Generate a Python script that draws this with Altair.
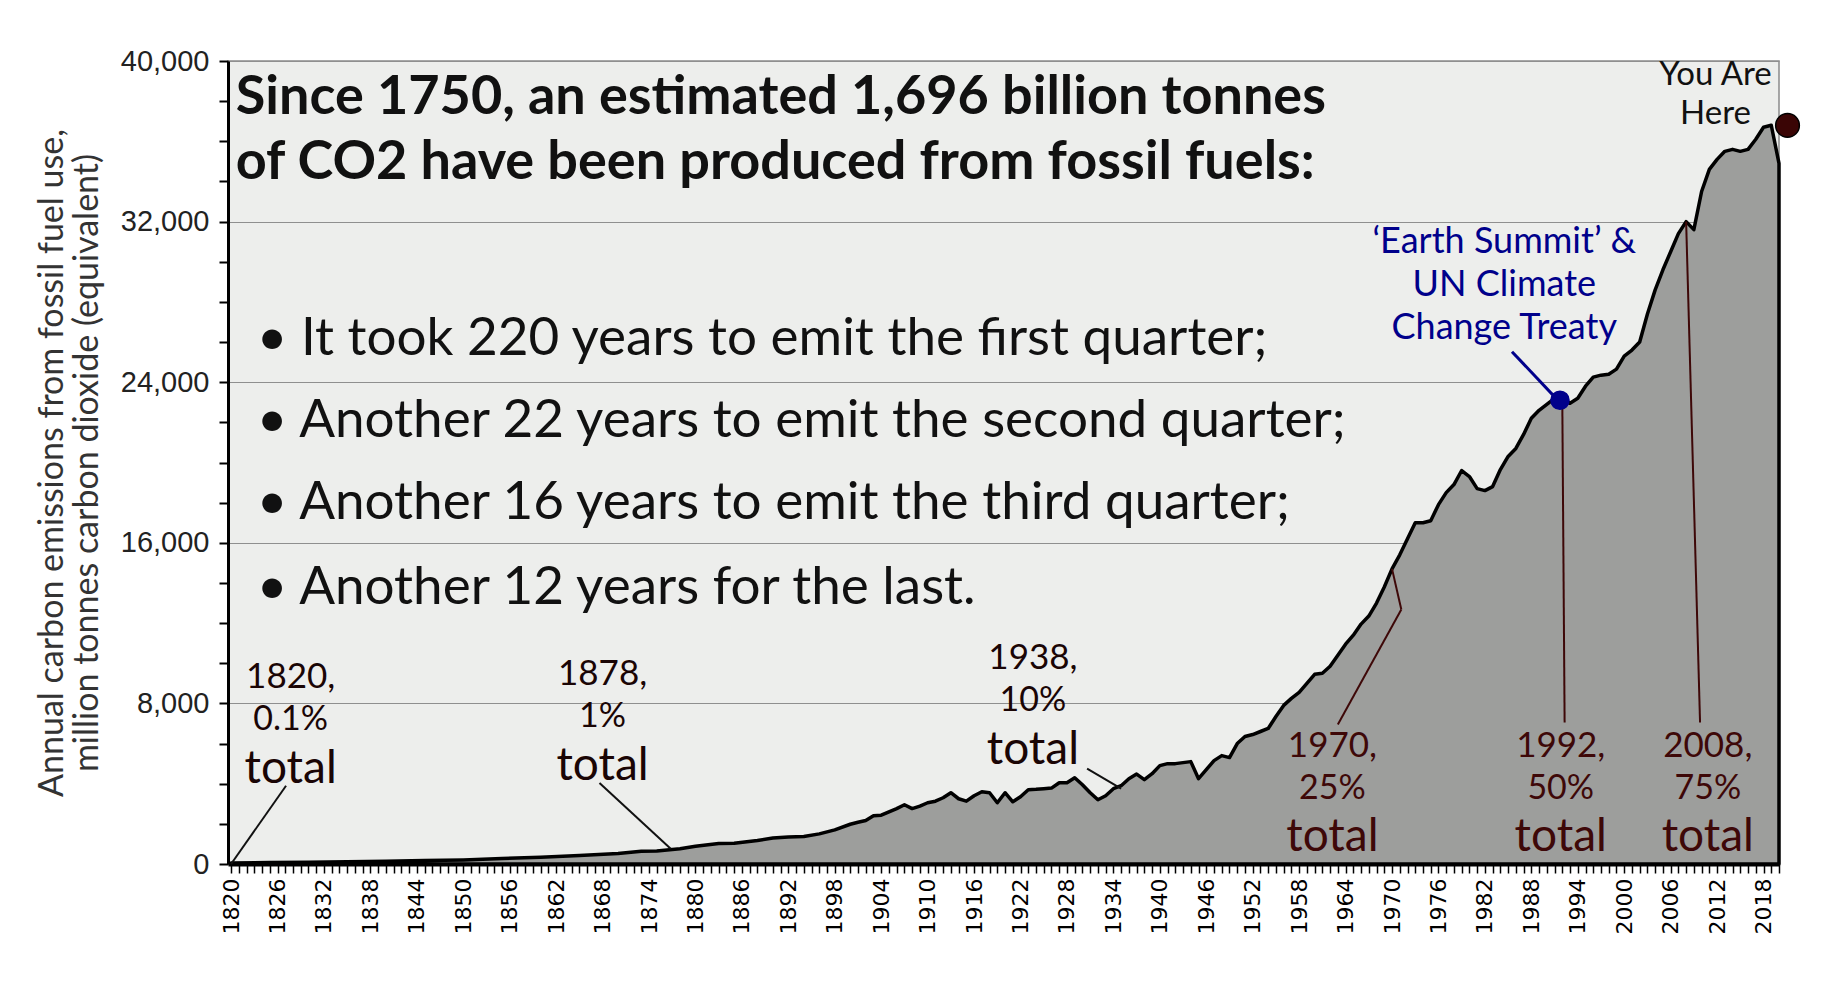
import altair as alt
import pandas as pd

# ---------------- data ----------------
years = [1820, 1825, 1830, 1835, 1840, 1845, 1850, 1855, 1860, 1865, 1870, 1873, 1875,
         1878, 1880, 1883, 1885, 1888, 1890, 1892, 1894, 1896, 1898,
         1900, 1901, 1902, 1903, 1904, 1905, 1906, 1907, 1908, 1909,
         1910, 1911, 1912, 1913, 1914, 1915, 1916, 1917, 1918, 1919,
         1920, 1921, 1922, 1923, 1924, 1925, 1926, 1927, 1928, 1929,
         1930, 1931, 1932, 1933, 1934, 1935, 1936, 1937, 1938, 1939,
         1940, 1941, 1942, 1943, 1944, 1945, 1946, 1947, 1948, 1949,
         1950, 1951, 1952, 1953, 1954, 1955, 1956, 1957, 1958, 1959,
         1960, 1961, 1962, 1963, 1964, 1965, 1966, 1967, 1968, 1969,
         1970, 1971, 1972, 1973, 1974, 1975, 1976, 1977, 1978, 1979,
         1980, 1981, 1982, 1983, 1984, 1985, 1986, 1987, 1988, 1989,
         1990, 1991, 1992, 1993, 1994, 1995, 1996, 1997, 1998, 1999,
         2000, 2001, 2002, 2003, 2004, 2005, 2006, 2007, 2008, 2009,
         2010, 2011, 2012, 2013, 2014, 2015, 2016, 2017, 2018, 2019, 2020]
emissions = [50, 70, 90, 110, 140, 170, 200, 270, 340, 420, 520, 640, 650,
             760, 880, 1020, 1030, 1170, 1290, 1350, 1370, 1500, 1700,
             1980, 2080, 2170, 2400, 2430, 2600, 2760, 2950, 2760, 2880,
             3050, 3130, 3300, 3550, 3250, 3130, 3400, 3600, 3550, 3050,
             3550, 3100, 3350, 3700, 3720, 3750, 3780, 4050, 4050, 4300,
             3950, 3550, 3200, 3400, 3750, 3900, 4250, 4480, 4200, 4500,
             4900, 5000, 5000, 5050, 5100, 4250, 4700, 5150, 5400, 5300,
             6000, 6350, 6450, 6600, 6750, 7350, 7900, 8250, 8550, 9000,
             9450, 9500, 9850, 10400, 10950, 11400, 11950, 12350, 13000, 13800,
             14700, 15400, 16200, 17000, 17000, 17100, 17900, 18500, 18900, 19600,
             19300, 18700, 18600, 18800, 19650, 20300, 20700, 21400, 22200, 22600,
             22900, 23200, 23100, 22950, 23200, 23800, 24250, 24350, 24400, 24650,
             25300, 25600, 26000, 27400, 28600, 29600, 30500, 31400, 32000, 31600,
             33500, 34600, 35100, 35500, 35600, 35500, 35600, 36100, 36700, 36800, 34900]

x_tick_values = list(range(1820, 2021))
y_tick_values = list(range(0, 40001, 2000))

title_text = "Since 1750, an  estimated 1,696 billion tonnes\nof CO2 have been produced from fossil fuels:"
title_x = [1820.6]
title_y = [37350]

bullet_lines = ["\u2022 It took 220 years to emit the first quarter;",
                "\u2022 Another 22 years to emit the second quarter;",
                "\u2022 Another 16 years to emit the third quarter;",
                "\u2022 Another 12 years for the last."]
bullet_x = [1823.3, 1823.3, 1823.3, 1823.3]
bullet_y = [25350, 21260, 17170, 12960]

# milestone labels: text, x(year), y(value), size, colour
ann_text = ["1820,", "0.1%", "total", "1878,", "1%", "total", "1938,", "10%", "total",
            "1970,", "25%", "total", "1992,", "50%", "total", "2008,", "75%", "total"]
ann_x = [1827.7] * 3 + [1868.0] * 3 + [1923.6] * 3 + [1962.3] * 3 + [1991.8] * 3 + [2010.8] * 3
ann_y = [9300, 7150, 4750, 9450, 7300, 4900, 10250, 8100, 5700,
         5900, 3750, 1350, 5900, 3750, 1350, 5900, 3750, 1350]
ann_size = [35, 34, 46] * 6
ann_color = ["#1a0505"] * 9 + ["#3e0808"] * 9

here_text = ["You Are", "Here"]
here_x = [2011.8, 2011.8]
here_y = [39300, 37350]

summit_text = ["\u2018Earth Summit\u2019 &", "UN Climate", "Change Treaty"]
summit_x = [1984.5, 1984.5, 1984.5]
summit_y = [31000, 28850, 26700]

# leader lines (x1, y1, x2, y2, colour)
seg_x1 = [1827.1, 1867.6, 1930.6, 1963.0, 1971.2, 1992.3, 2009.8]
seg_y1 = [3900, 4030, 4750, 6950, 12673, 7050, 7050]
seg_x2 = [1820.0, 1876.8, 1935.0, 1971.2, 1970.0, 1992.0, 2008.0]
seg_y2 = [0, 760, 3750, 12673, 14700, 23100, 32000]
seg_color = ["#111111", "#111111", "#111111", "#3e0808", "#3e0808", "#3e0808", "#3e0808"]

summit_arrow_x = [1985.5, 1991.5]
summit_arrow_y = [25520, 23070]

dot_x = [1991.7, 2021.1]
dot_y = [23100, 36790]
dot_fill = ["#00008b", "#3a0505"]
dot_stroke = ["#00008b", "#000000"]
dot_size = [330, 560]

# ---------------- chart ----------------
df = pd.DataFrame({"year": years, "co2": emissions})
xs = alt.Scale(domain=[1819.6, 2020], nice=False, zero=False)
ys = alt.Scale(domain=[0, 40000], nice=False)

x_axis = alt.Axis(values=x_tick_values, tickCount=400,
                  labelExpr="(datum.value - 1820) % 6 == 0 ? '' + datum.value : ''",
                  labelFontSize={"condition": {"test": "(datum.value - 1820) % 6 !== 0", "value": 0},
                                 "value": 22},
                  labelAngle=270, labelAlign="right", labelBaseline="middle",
                  labelFont="DejaVu Sans", labelColor="#000000",
                  labelOverlap=False, labelPadding=5, labelFlush=False,
                  tickSize=9, tickWidth=1.5, tickColor="black",
                  domainColor="black", domainWidth=4, grid=False, title=None)
y_axis = alt.Axis(values=y_tick_values, tickCount=100,
                  labelExpr="datum.value % 8000 == 0 ? format(datum.value, ',') : ''",
                  labelFont="Liberation Sans", labelFontSize=29, labelColor="#222222",
                  labelPadding=10, labelOverlap=False,
                  tickSize=9, tickWidth=2, tickColor="black",
                  domainColor="black", domainWidth=3,
                  grid=True, gridColor="#8f8f8f", gridWidth=1.2,
                  gridOpacity={"condition": {"test": "datum.value % 8000 === 0", "value": 1}, "value": 0},
                  title=["Annual carbon emissions from fossil fuel use,",
                         "million tonnes carbon dioxide (equivalent)"],
                  titleFont="Lato", titleFontSize=34, titleFontWeight="normal",
                  titleColor="#333333", titleLineHeight=35, titlePadding=16)

area = alt.Chart(df).mark_area(
    color="#9d9e9c", stroke="black", strokeWidth=3.5, strokeJoin="round"
).encode(
    x=alt.X("year:Q", scale=xs, axis=x_axis),
    y=alt.Y("co2:Q", scale=ys, axis=y_axis),
)

def text_layer(xv, yv, tv, size, color, weight="normal", align="left", baseline="alphabetic",
               font="Lato", **kw):
    d = pd.DataFrame({"x": xv, "y": yv, "t": tv})
    return alt.Chart(d).mark_text(
        align=align, baseline=baseline, font=font, fontSize=size,
        fontWeight=weight, color=color, **kw
    ).encode(x=alt.X("x:Q", scale=xs), y=alt.Y("y:Q", scale=ys), text="t:N")

title_layer = text_layer(title_x, title_y, [title_text], 54, "#111111", weight="bold",
                         lineBreak="\n", lineHeight=65)
bullet_layer = text_layer(bullet_x, bullet_y, bullet_lines, 53, "#111111")

ann_df = pd.DataFrame({"x": ann_x, "y": ann_y, "t": ann_text, "s": ann_size, "c": ann_color})
ann_layer = alt.Chart(ann_df).mark_text(
    align="center", baseline="middle", font="Lato"
).encode(
    x=alt.X("x:Q", scale=xs), y=alt.Y("y:Q", scale=ys), text="t:N",
    size=alt.Size("s:Q", scale=None), color=alt.Color("c:N", scale=None),
)

here_layer = text_layer(here_x, here_y, here_text, 33, "#111111",
                        align="center", baseline="middle")
summit_layer = text_layer(summit_x, summit_y, summit_text, 36, "#00008b",
                          align="center", baseline="middle")

seg_df = pd.DataFrame({"x1": seg_x1, "y1": seg_y1, "x2": seg_x2, "y2": seg_y2, "c": seg_color})
seg_layer = alt.Chart(seg_df).mark_rule(strokeWidth=2).encode(
    x=alt.X("x1:Q", scale=xs), y=alt.Y("y1:Q", scale=ys),
    x2="x2:Q", y2="y2:Q", color=alt.Color("c:N", scale=None),
)

arrow_df = pd.DataFrame({"x1": [summit_arrow_x[0]], "y1": [summit_arrow_y[0]],
                         "x2": [summit_arrow_x[1]], "y2": [summit_arrow_y[1]]})
arrow_layer = alt.Chart(arrow_df).mark_rule(strokeWidth=3, color="#00008b").encode(
    x=alt.X("x1:Q", scale=xs), y=alt.Y("y1:Q", scale=ys), x2="x2:Q", y2="y2:Q",
)

dot_df = pd.DataFrame({"x": dot_x, "y": dot_y, "f": dot_fill, "s": dot_stroke, "z": dot_size})
dot_layer = alt.Chart(dot_df).mark_circle(opacity=1, strokeWidth=1.5).encode(
    x=alt.X("x:Q", scale=xs), y=alt.Y("y:Q", scale=ys),
    fill=alt.Fill("f:N", scale=None), stroke=alt.Stroke("s:N", scale=None),
    size=alt.Size("z:Q", scale=None),
)

chart = alt.layer(
    area, seg_layer, arrow_layer, dot_layer,
    title_layer, bullet_layer, ann_layer, here_layer, summit_layer,
).properties(
    width=1551, height=803,
    padding={"left": 220, "top": 53, "right": 50, "bottom": 120},
    autosize=alt.AutoSizeParams(type="none"),
    background="white",
).configure_view(
    fill="#edeeec", stroke="#8a8a8a", strokeWidth=1.5
)

chart.save("out.html", embed_options={"renderer": "svg", "actions": False})
